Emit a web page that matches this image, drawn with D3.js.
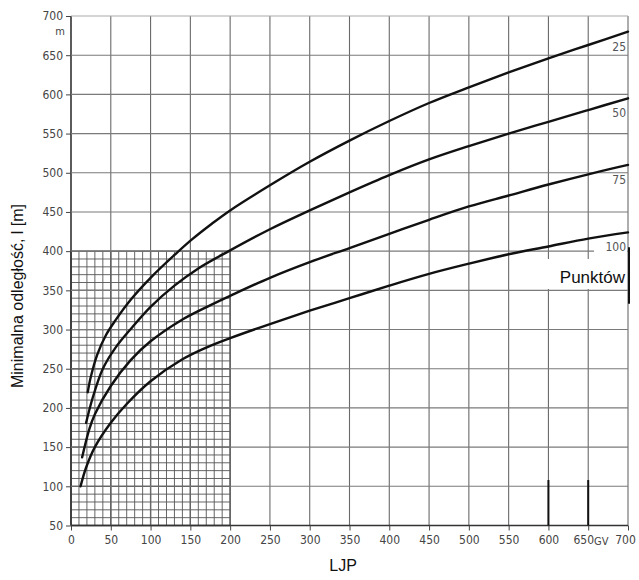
<!DOCTYPE html>
<html><head><meta charset="utf-8">
<script src="https://cdn.jsdelivr.net/npm/d3@7"></script>
<style>
body{margin:0;background:#fff;}
svg{display:block;}
</style></head>
<body>
<svg id="chart" width="639" height="580"></svg>
<script>
// ---- data ----
const seriesNames = ["25", "50", "75", "100"];
const ljp25 = [21, 25, 33, 44, 56, 75, 100, 131, 152, 177, 200, 250, 300, 350, 400, 450, 500, 550, 600, 650, 700];
const dist25 = [220, 240, 268, 293, 312, 338, 366, 396, 415, 435, 452, 484, 514, 541, 566, 589, 609, 628, 646, 663, 680];
const ljp50 = [19, 27, 40, 56, 77, 100, 130, 160, 200, 250, 300, 350, 400, 450, 500, 550, 600, 650, 700];
const dist50 = [181, 212, 250, 277, 303, 329, 356, 378, 401, 428, 452, 475, 497, 517, 534, 550, 565, 580, 595];
const ljp75 = [14, 23, 30, 50, 75, 100, 137, 171, 200, 250, 300, 350, 400, 450, 500, 550, 600, 650, 700];
const dist75 = [137, 173, 192, 228, 261, 285, 311, 329, 343, 366, 386, 404, 422, 440, 457, 471, 485, 498, 510];
const ljp100 = [12, 19, 30, 50, 70, 100, 140, 170, 200, 250, 300, 350, 400, 450, 500, 550, 600, 650, 700];
const dist100 = [100, 124, 150, 181, 205, 234, 262, 277, 289, 307, 324, 340, 356, 371, 384, 396, 406, 416, 424];
const xTicks = [0, 50, 100, 150, 200, 250, 300, 350, 400, 450, 500, 550, 600, 650, 700];
const yTicks = [50, 100, 150, 200, 250, 300, 350, 400, 450, 500, 550, 600, 650, 700];
const markerLJP = [600, 650];

const svg = d3.select("#chart");
const x = d3.scaleLinear().domain([0, 700]).range([71, 628]);
const y = d3.scaleLinear().domain([50, 700]).range([525.5, 16]);
const tickFont = "'Liberation Sans Narrow','DejaVu Sans Condensed',sans-serif";

// fine grid in hatched region (0-200, 50-400)
const fine = svg.append("g");
d3.range(0, 201, 10).forEach(v => {
  fine.append("line").attr("x1", x(v)).attr("x2", x(v)).attr("y1", y(50)).attr("y2", y(400))
    .attr("stroke", v % 50 === 0 ? "#333" : "#555").attr("stroke-width", v % 50 === 0 ? 1.3 : 0.9);
});
d3.range(50, 401, 10).forEach(v => {
  fine.append("line").attr("x1", x(0)).attr("x2", x(200)).attr("y1", y(v)).attr("y2", y(v))
    .attr("stroke", v % 50 === 0 ? "#333" : "#555").attr("stroke-width", v % 50 === 0 ? 1.3 : 0.9);
});

// major grid
const grid = svg.append("g");
xTicks.forEach(v => {
  grid.append("line").attr("x1", x(v)).attr("x2", x(v)).attr("y1", y(700)).attr("y2", y(50))
    .attr("stroke", v === 0 ? "#333" : "#6a6a6a").attr("stroke-width", v === 0 ? 1.6 : 1.1);
});
yTicks.forEach(v => {
  grid.append("line").attr("x1", x(0)).attr("x2", x(700)).attr("y1", y(v)).attr("y2", y(v))
    .attr("stroke", v === 700 ? "#aaa" : (v === 50 ? "#333" : "#7a7a7a"))
    .attr("stroke-width", v === 50 ? 1.6 : 1.1);
});

// axes (ticks + labels)
const xAxis = d3.axisBottom(x).tickValues(xTicks).tickSize(5).tickFormat(d3.format("d"));
const gx = svg.append("g").attr("transform", `translate(0,${y(50)})`).call(xAxis);
gx.select(".domain").remove();
gx.selectAll("line").attr("stroke", "#444");
gx.selectAll("text").attr("font-family", tickFont).attr("font-size", 12).attr("fill", "#444")
  .attr("dy", "0.9em")
  .attr("dx", d => d === 650 ? -5 : (d === 700 ? -3 : 0));
svg.append("text").attr("x", 594).attr("y", y(50) + 19)
  .attr("font-family", tickFont).attr("font-size", 11).attr("fill", "#444").text("GV");

const yAxis = d3.axisLeft(y).tickValues(yTicks).tickSize(5).tickFormat(d3.format("d"));
const gy = svg.append("g").attr("transform", `translate(${x(0)},0)`).call(yAxis);
gy.select(".domain").remove();
gy.selectAll("line").attr("stroke", "#444");
gy.selectAll("text").attr("font-family", tickFont).attr("font-size", 12).attr("fill", "#444");
svg.append("text").attr("x", x(0) - 11).attr("y", y(700) + 19).attr("text-anchor", "middle")
  .attr("font-family", tickFont).attr("font-size", 11).attr("fill", "#444").text("m");

// marker lines
markerLJP.forEach(v => {
  svg.append("line").attr("x1", x(v)).attr("x2", x(v)).attr("y1", y(50)).attr("y2", y(108))
    .attr("stroke", "#111").attr("stroke-width", 2);
});

// white backgrounds for the right-hand labels
svg.append("rect").attr("x", 594).attr("y", 238).attr("width", 33).attr("height", 20).attr("fill", "#fff");
svg.append("rect").attr("x", 540).attr("y", 259).attr("width", 87).attr("height", 30).attr("fill", "#fff");
svg.append("text").attr("x", 625).attr("y", 283).attr("text-anchor", "end")
  .attr("font-family", "'Liberation Sans',Arial,sans-serif").attr("font-size", 17).attr("fill", "#111").text("Punktów");
svg.append("line").attr("x1", x(700) + 1).attr("x2", x(700) + 1).attr("y1", y(405)).attr("y2", y(333))
  .attr("stroke", "#111").attr("stroke-width", 2);

// curves
const line = d3.line().x(d => x(d[0])).y(d => y(d[1])).curve(d3.curveCatmullRom.alpha(0.5));
const allX = [ljp25, ljp50, ljp75, ljp100];
const allY = [dist25, dist50, dist75, dist100];
allX.forEach((xs, i) => {
  const pts = xs.map((v, j) => [v, allY[i][j]]);
  svg.append("path").datum(pts).attr("d", line).attr("fill", "none")
    .attr("stroke", "#111").attr("stroke-width", 2.4).attr("stroke-linecap", "round");
  const last = pts[pts.length - 1];
  svg.append("text").attr("x", x(700) - 2).attr("y", y(last[1]) + 19).attr("text-anchor", "end")
    .attr("font-family", tickFont).attr("font-size", 12).attr("fill", "#555").text(seriesNames[i]);
});

// titles
svg.append("text").attr("x", x(342)).attr("y", 571).attr("text-anchor", "middle")
  .attr("font-family", "'Liberation Sans',Arial,sans-serif").attr("font-size", 16).attr("fill", "#111").text("LJP");
svg.append("text").attr("transform", `translate(23,296) rotate(-90)`).attr("text-anchor", "middle")
  .attr("font-family", "'Liberation Sans',Arial,sans-serif").attr("font-size", 16).attr("fill", "#111")
  .text("Minimalna odległość, l [m]");
</script>
</body></html>
